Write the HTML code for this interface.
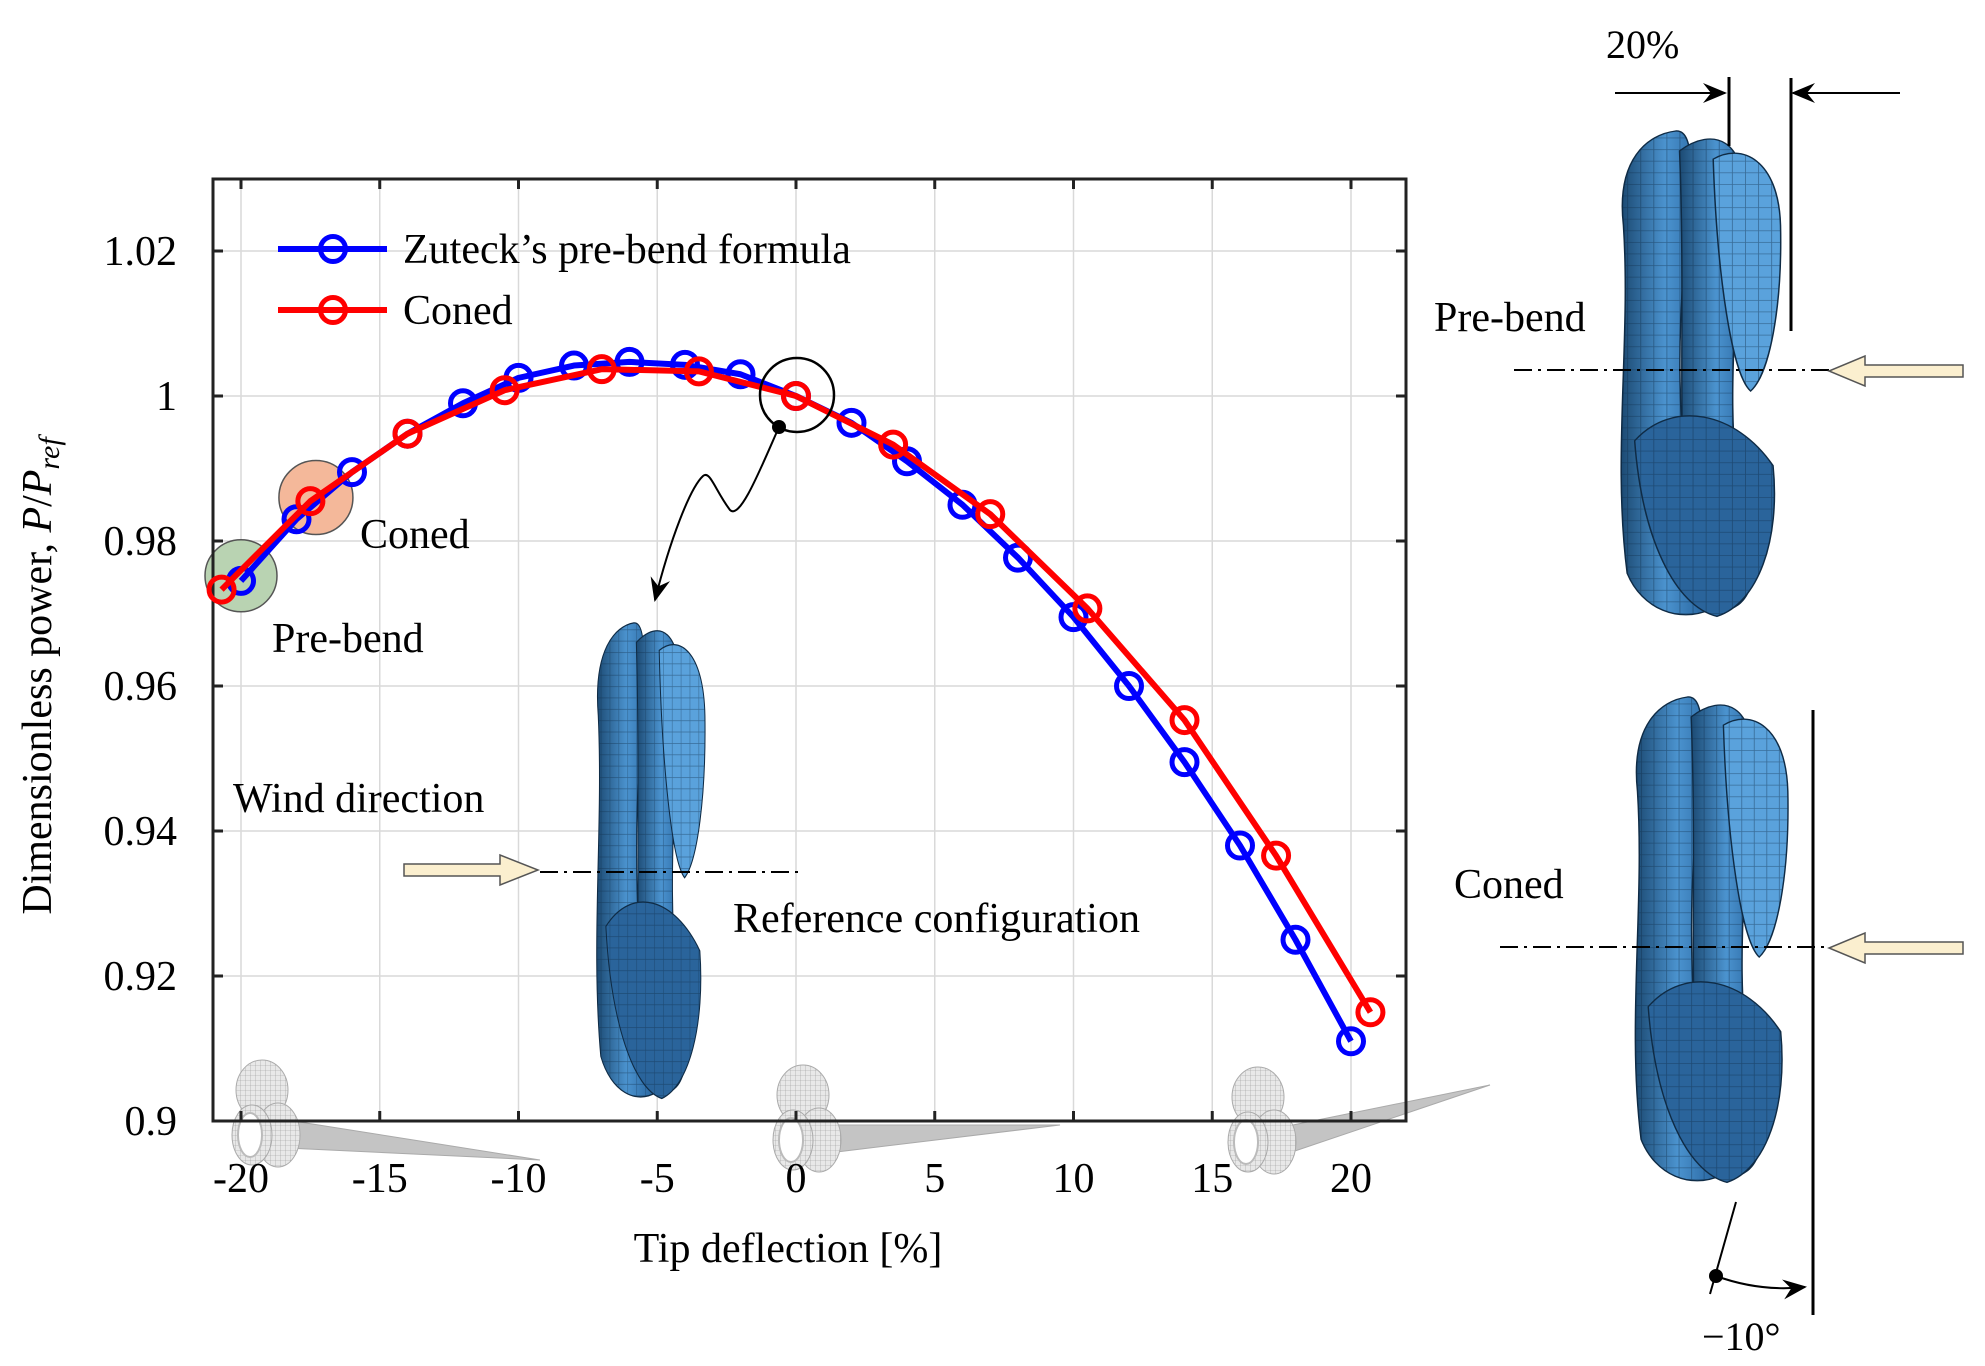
<!DOCTYPE html>
<html><head><meta charset="utf-8">
<style>
html,body{margin:0;padding:0;background:#fff;}
svg{display:block;font-family:"Liberation Serif",serif;}
</style></head>
<body>
<svg id="chart" width="1985" height="1366" viewBox="0 0 1985 1366" xmlns="http://www.w3.org/2000/svg">
<defs>
<linearGradient id="bl" x1="0" x2="1" y1="0" y2="0"><stop offset="0" stop-color="#1c4a73"/><stop offset="0.5" stop-color="#4b93cf"/><stop offset="1" stop-color="#24609a"/></linearGradient>
<pattern id="mesh" width="7" height="7" patternUnits="userSpaceOnUse"><path d="M0 0H7M0 0V7" stroke="#0f2b45" stroke-width="0.9" fill="none"/></pattern>
<pattern id="gmesh" width="5" height="5" patternUnits="userSpaceOnUse"><rect width="5" height="5" fill="#e8e8e8"/><path d="M0 0H5M0 0V5" stroke="#999" stroke-width="0.6" fill="none"/></pattern>
<marker id="ah" markerWidth="12" markerHeight="10" refX="11" refY="5" orient="auto"><path d="M0,0 L12,5 L0,10 L4,5 Z" fill="#000"/></marker>
</defs>
<g id="grid"></g>
<g id="hubs"></g>
<g id="blades"></g>
<g id="axes"></g>
<g id="series"></g>
<g id="annot"></g>
</svg>
<script>
const xTicks = [-20,-15,-10,-5,0,5,10,15,20];
const xTickLabels = ["-20","-15","-10","-5","0","5","10","15","20"];
const yTicks = [0.9,0.92,0.94,0.96,0.98,1,1.02];
const yTickLabels = ["0.9","0.92","0.94","0.96","0.98","1","1.02"];
const zuteckX = [-20,-18,-16,-14,-12,-10,-8,-6,-4,-2,0,2,4,6,8,10,12,14,16,18,20];
const zuteckY = [0.9745,0.983,0.9895,0.9948,0.999,1.0025,1.0042,1.0047,1.0043,1.003,1.0,0.9963,0.991,0.985,0.9777,0.9695,0.960,0.9495,0.938,0.925,0.911];
const conedX = [-20.7,-17.5,-14,-10.5,-7,-3.5,0,3.5,7,10.5,14,17.3,20.7];
const conedY = [0.9733,0.9855,0.9948,1.0008,1.0037,1.0034,1.0,0.9933,0.9837,0.9707,0.9553,0.9366,0.915];

const NS="http://www.w3.org/2000/svg";
const L=213,R=1406,T=179,B=1121;
const X=v=>241+(v+20)*(1351-241)/40;
const Y=v=>1121-(v-0.9)*(1121-251)/0.12;
function mk(tag,attrs,parent,text){const e=document.createElementNS(NS,tag);for(const k in attrs)e.setAttribute(k,attrs[k]);if(text!==undefined)e.textContent=text;parent.appendChild(e);return e;}
const grid=document.getElementById('grid'),axes=document.getElementById('axes'),series=document.getElementById('series');

xTicks.forEach(v=>{const g=mk('line',{x1:X(v),x2:X(v),y1:T,y2:B,stroke:'#d9d9d9','stroke-width':1.5},grid);

});
yTicks.forEach(v=>{const g=mk('line',{x1:L,x2:R,y1:Y(v),y2:Y(v),stroke:'#d9d9d9','stroke-width':1.5},grid);

});

const fr=mk('rect',{x:L,y:T,width:R-L,height:B-T,fill:'none',stroke:'#222','stroke-width':3},axes);


xTicks.forEach((v,i)=>{
 mk('line',{x1:X(v),x2:X(v),y1:B,y2:B-10,stroke:'#222','stroke-width':3},axes);
 mk('line',{x1:X(v),x2:X(v),y1:T,y2:T+10,stroke:'#222','stroke-width':3},axes);
 const t=mk('text',{x:X(v),y:1192,'font-size':42,'text-anchor':'middle'},axes,xTickLabels[i]);
 
 
});
yTicks.forEach((v,i)=>{
 mk('line',{x1:L,x2:L+10,y1:Y(v),y2:Y(v),stroke:'#222','stroke-width':3},axes);
 mk('line',{x1:R,x2:R-10,y1:Y(v),y2:Y(v),stroke:'#222','stroke-width':3},axes);
 const t=mk('text',{x:177,y:Y(v)+14,'font-size':42,'text-anchor':'end'},axes,yTickLabels[i]);
 
 
});
const xt=mk('text',{x:788,y:1262,'font-size':42,'text-anchor':'middle'},axes,'Tip deflection [%]');


const yt=mk('text',{x:0,y:0,'font-size':42,'text-anchor':'middle',transform:'translate(51,676) rotate(-90)'},axes);


yt.innerHTML='Dimensionless power, <tspan font-style="italic">P</tspan>/<tspan font-style="italic">P</tspan><tspan font-style="italic" font-size="30" dy="8">ref</tspan>';

const gc=mk('circle',{cx:X(-20),cy:Y(0.9752),r:36,fill:'#b9d3b2',stroke:'#555','stroke-width':1.5},grid);


const oc=mk('circle',{cx:X(-17.3),cy:Y(0.986),r:37,fill:'#f4b89a',stroke:'#555','stroke-width':1.5},grid);



function drawSeries(xs,ys,color,name){
 const g=mk('g',{},series);
 
 
 const p=mk('polyline',{points:xs.map((x,i)=>X(x)+','+Y(ys[i])).join(' '),fill:'none',stroke:color,'stroke-width':6,'stroke-linejoin':'round'},g);
 
 
 xs.forEach((x,i)=>{const c=mk('circle',{cx:X(x),cy:Y(ys[i]),r:12.5,fill:'none',stroke:color,'stroke-width':5},g);
 
 });
}
drawSeries(zuteckX,zuteckY,'#0000ff','zuteck-series');
drawSeries(conedX,conedY,'#ff0000','coned-series');

const lg=mk('g',{},series);


[['#0000ff',249,"Zuteck’s pre-bend formula"],['#ff0000',310,'Coned']].forEach(([c,y,t])=>{
 const e=mk('g',{},lg);
 
 
 mk('line',{x1:278,x2:387,y1:y,y2:y,stroke:c,'stroke-width':6},e);
 mk('circle',{cx:333,cy:y,r:12.5,fill:'none',stroke:c,'stroke-width':5},e);
 mk('text',{x:403,y:y+14,'font-size':42},e,t);
});
</script>
<script>
(function(){
const ann=document.getElementById('annot'),bl=document.getElementById('blades'),hubs=document.getElementById('hubs');
function add(parent,html){parent.insertAdjacentHTML('beforeend',html);}
add(ann,`
<circle cx="797" cy="395" r="37" fill="none" stroke="#000" stroke-width="2.5"/>
<circle cx="779" cy="427" r="7" fill="#000"/>
<path d="M779 427 C760 470 740 520 730 510 C715 490 710 470 703 476 C690 488 670 540 655 600" fill="none" stroke="#000" stroke-width="2" marker-end="url(#ah)"/>
<text x="360" y="548" font-size="42">Coned</text>
<text x="272" y="652" font-size="42">Pre-bend</text>
<text x="233" y="812" font-size="42">Wind direction</text>
<text x="733" y="932" font-size="42">Reference configuration</text>
<path d="M404 864 H500 V855 L538 870 L500 885 V876 H404 Z" fill="#fbefcf" stroke="#555" stroke-width="1.5"/>
<line x1="540" y1="872" x2="800" y2="872" stroke="#000" stroke-width="2" stroke-dasharray="18 6 3 6"/>
<text x="1434" y="331" font-size="42">Pre-bend</text>
<text x="1454" y="898" font-size="42">Coned</text>
<text x="1606" y="58" font-size="40">20%</text>
<line x1="1615" y1="93" x2="1725" y2="93" stroke="#000" stroke-width="2" marker-end="url(#ah)"/>
<line x1="1729" y1="77" x2="1729" y2="146" stroke="#000" stroke-width="3"/>
<line x1="1791" y1="78" x2="1791" y2="331" stroke="#000" stroke-width="3"/>
<line x1="1900" y1="93" x2="1793" y2="93" stroke="#000" stroke-width="2" marker-end="url(#ah)"/>
<line x1="1514" y1="370" x2="1829" y2="370" stroke="#000" stroke-width="2" stroke-dasharray="18 6 3 6"/>
<path d="M1963 365 H1865 V356 L1829 371 L1865 386 V377 H1963 Z" fill="#fbefcf" stroke="#555" stroke-width="1.5"/>
<line x1="1500" y1="947" x2="1827" y2="947" stroke="#000" stroke-width="2" stroke-dasharray="18 6 3 6"/>
<path d="M1963 942 H1865 V933 L1829 948 L1865 963 V954 H1963 Z" fill="#fbefcf" stroke="#555" stroke-width="1.5"/>
<line x1="1813" y1="710" x2="1813" y2="1315" stroke="#000" stroke-width="3"/>
<line x1="1736" y1="1202" x2="1710" y2="1294" stroke="#000" stroke-width="2"/>
<circle cx="1716" cy="1276" r="7" fill="#000"/>
<path d="M1716 1276 Q1760 1292 1805 1287" fill="none" stroke="#000" stroke-width="2" marker-end="url(#ah)"/>
<text x="1702" y="1350" font-size="40">−10°</text>
`);
const shapes=[
 "M12 60 C8 20 25 5 40 3 C52 2 48 40 44 90 C40 150 42 220 58 292 C42 300 22 292 14 270 C6 200 16 130 12 60 Z",
 "M42 15 C60 0 78 8 76 45 C72 120 64 190 80 255 C86 290 66 300 52 286 C38 220 46 130 42 15 Z",
 "M60 20 C75 10 95 20 96 60 C97 110 90 150 80 160 C70 150 62 90 60 20 Z",
 "M18 190 C38 165 72 172 92 205 C96 250 84 288 62 296 C40 290 22 250 18 190 Z"
];
const fills=["url(#bl)","url(#bl)","#5aa2dc","#2a649b"];
function blade(x,y,w,h,name){
 let s=`<g transform="translate(${x},${y}) scale(${w/100},${h/300})">`;
 shapes.forEach((d,i)=>{s+=`<path d="${d}" fill="${fills[i]}" stroke="#0f2b45" stroke-width="0.8"/><path d="${d}" fill="url(#mesh)" opacity="0.45"/>`;});
 return s+`</g>`;
}
add(bl,blade(583,618,127,487,'reference-blade'));
add(bl,blade(1601,126,187,497,'pre-bend-blade'));
add(bl,blade(1616,692,179,497,'coned-blade'));
function hub(x,y,name,tx,ty){
 return `<g>
 <ellipse cx="${x}" cy="${y}" rx="26" ry="30" fill="url(#gmesh)" stroke="#aaa"/>
 <path d="M${x+25} ${y+30} L${tx} ${ty} L${x+25} ${y+58} Z" fill="#c4c4c4" stroke="#aaa" stroke-width="1"/>
 <ellipse cx="${x+16}" cy="${y+45}" rx="22" ry="32" fill="url(#gmesh)" stroke="#aaa"/>
 <ellipse cx="${x-10}" cy="${y+45}" rx="20" ry="30" fill="url(#gmesh)" stroke="#aaa"/>
 <ellipse cx="${x-12}" cy="${y+45}" rx="12" ry="22" fill="#fff" stroke="#bbb" stroke-width="2"/>
 </g>`;
}
add(hubs,hub(262,1090,'hub-left',540,1160));
add(hubs,hub(803,1095,'hub-center',1060,1125));
add(hubs,hub(1258,1097,'hub-right',1490,1085));
})();
</script>
</body></html>
